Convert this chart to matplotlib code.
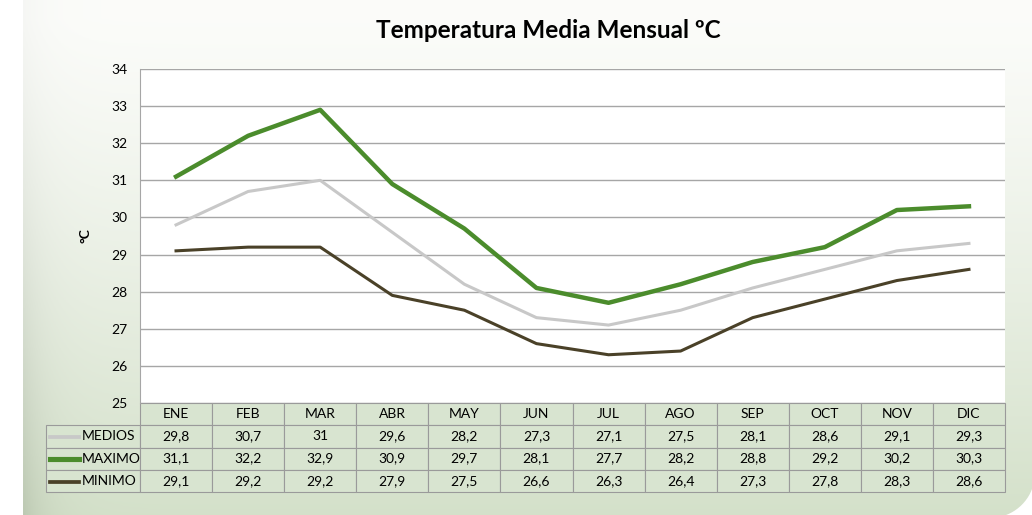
import numpy as np
import matplotlib
matplotlib.use("Agg")
import matplotlib.pyplot as plt
from matplotlib.patches import PathPatch
from matplotlib.path import Path
from matplotlib.lines import Line2D

# datos
meses = ["ENE", "FEB", "MAR", "ABR", "MAY", "JUN", "JUL", "AGO", "SEP", "OCT", "NOV", "DIC"]
medios = [29.8, 30.7, 31, 29.6, 28.2, 27.3, 27.1, 27.5, 28.1, 28.6, 29.1, 29.3]
maximo = [31.1, 32.2, 32.9, 30.9, 29.7, 28.1, 27.7, 28.2, 28.8, 29.2, 30.2, 30.3]
minimo = [29.1, 29.2, 29.2, 27.9, 27.5, 26.6, 26.3, 26.4, 27.3, 27.8, 28.3, 28.6]
series = ["MEDIOS", "MAXIMO", "MINIMO"]
colores = ["#c8c8c8", "#4b8c2c", "#4a4128"]
grosor = [2.2, 3.2, 2.2]

plt.rcParams['font.family'] = ['Lato', 'DejaVu Sans']

W, H = 1032, 515
fig = plt.figure(figsize=(W / 100, H / 100), dpi=100)
fig.patch.set_facecolor("white")

# fondo verde degradado (esquina inferior derecha redondeada)
bg = fig.add_axes([0, 0, 1, 1], zorder=-5)
bg.set_xlim(0, W)
bg.set_ylim(H, 0)
bg.axis("off")
ny, nx = 200, 400
yy = np.linspace(0, 1, ny)[:, None]
xx = np.linspace(0, 1, nx)[None, :]
top = np.array([0.985, 0.988, 0.978])
bot = np.array([0.83, 0.88, 0.79])
t = np.clip((yy - 0.05) / 0.95, 0, 1) ** 1.2
img = top[None, None, :] * (1 - t[..., None]) + bot[None, None, :] * t[..., None]
edge = np.exp(-xx / 0.022)[..., None] * 0.07
img = np.clip(img - edge * (0.3 + t[..., None]), 0, 1)
img = np.broadcast_to(img, (ny, nx, 3))

cx, cy, r = 990, 473, 45
ang = np.linspace(0, np.pi / 2, 20)
arco = list(zip(cx + r * np.cos(ang), cy + r * np.sin(ang)))
verts = [(23, -10), (1060, -10), (1060, 0), (cx + r, 0)] + arco + [(23, cy + r), (23, -10)]
panel = PathPatch(Path(verts), facecolor="none", edgecolor="none", transform=bg.transData)
bg.add_patch(panel)
im = bg.imshow(img, extent=[23, 1040, 520, -10], aspect="auto")
im.set_clip_path(panel)

ax = fig.add_axes([140 / W, 1 - 403 / H, 865 / W, 334 / H])
ax.set_facecolor("white")
x = np.arange(len(meses))
for nombre, vals, c, lw in zip(series, [medios, maximo, minimo], colores, grosor):
    ax.plot(x, vals, color=c, lw=lw, solid_joinstyle="round", zorder=3)
ax.set_xlim(-0.5, 11.5)
ax.set_ylim(25, 34)
ax.set_yticks(range(25, 35))
ax.yaxis.grid(True, color="#a6a6a6", lw=1)
ax.set_axisbelow(True)
ax.tick_params(axis="y", length=0, labelsize=10, pad=9)
ax.set_xticks([])
for s in ["top", "right", "bottom"]:
    ax.spines[s].set_visible(False)
ax.spines["left"].set_color("#a6a6a6")
ax.set_ylabel("°C", fontsize=10, fontweight="bold", labelpad=14)

fig.text(548 / W, 1 - 30 / H, "Temperatura Media Mensual ºC", ha="center", va="center",
         fontsize=17.5, fontweight="bold")

# tabla de datos
def fmt(v):
    return ("%g" % v).replace(".", ",")

celdas = [[""] + meses]
for nombre, vals in zip(series, [medios, maximo, minimo]):
    celdas.append([nombre] + [fmt(v) for v in vals])

x0 = (46 - 140) / 865
tb = ax.table(cellText=celdas, cellLoc="center", bbox=[x0, -89 / 334, 1 - x0, 89 / 334])
tb.auto_set_font_size(False)
tb.set_fontsize(10)
for (r, c), cell in tb.get_celld().items():
    cell.set_edgecolor("#9a9a9a")
    cell.set_facecolor("#d8e4d0")
    cell.set_linewidth(0.8)
    cell.set_width(94 if c == 0 else 72.08)
    if r == 0 and c == 0:
        cell.set_edgecolor("none")
        cell.set_facecolor("none")
    if c == 0 and r > 0:
        cell.get_text().set_ha("left")
        cell.PAD = 0.38

# muestras de leyenda
for i, (c, lw) in enumerate(zip(colores, grosor)):
    yc = 1 - (437 + 22.3 * i) / H
    fig.add_artist(Line2D([50 / W, 79 / W], [yc, yc], color=c, lw=lw + 0.5))

fig.savefig("out.png", dpi=100)
